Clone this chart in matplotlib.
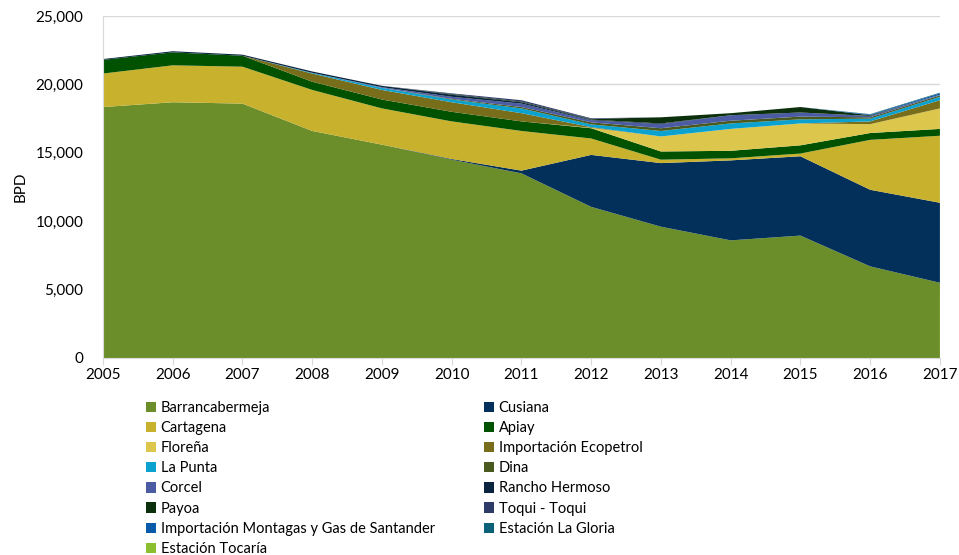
import matplotlib.pyplot as plt
from matplotlib.patches import Patch

plt.rcParams['font.family'] = ['Lato', 'DejaVu Sans']

years = list(range(2005, 2018))

# BPD per source (stacked in this order)
barrancabermeja = [18350, 18700, 18600, 16600, 15600, 14500, 13500, 11050, 9600, 8600, 8950, 6700, 5500]
cusiana = [0, 0, 0, 0, 0, 50, 200, 3800, 4650, 5850, 5800, 5600, 5850]
cartagena = [2450, 2700, 2700, 3000, 2650, 2750, 2900, 1200, 250, 150, 200, 3650, 4900]
apiay = [1000, 950, 800, 600, 650, 700, 700, 750, 600, 550, 600, 500, 500]
florena = [0, 0, 0, 0, 0, 0, 0, 30, 1100, 1600, 1600, 650, 1500]
importacion_ecopetrol = [0, 0, 0, 600, 700, 700, 600, 50, 0, 0, 0, 200, 600]
la_punta = [0, 0, 0, 50, 150, 200, 350, 200, 400, 400, 300, 200, 250]
dina = [0, 0, 0, 0, 0, 50, 100, 150, 200, 200, 200, 100, 100]
corcel = [0, 0, 0, 0, 50, 150, 250, 150, 300, 400, 300, 100, 50]
rancho_hermoso = [60, 80, 80, 100, 100, 150, 100, 50, 50, 0, 0, 0, 0]
payoa = [0, 0, 0, 0, 0, 50, 50, 50, 450, 150, 400, 50, 0]
toqui_toqui = [0, 0, 0, 0, 0, 50, 100, 50, 0, 0, 0, 0, 0]
montagas = [0, 0, 0, 0, 0, 0, 0, 0, 0, 0, 0, 50, 100]
la_gloria = [0, 0, 0, 0, 0, 0, 0, 0, 0, 0, 0, 30, 50]
tocaria = [0, 0, 0, 0, 0, 0, 0, 0, 0, 0, 0, 0, 0]

names = ["Barrancabermeja", "Cusiana", "Cartagena", "Apiay", "Floreña",
         "Importación Ecopetrol", "La Punta", "Dina", "Corcel", "Rancho Hermoso",
         "Payoa", "Toqui - Toqui", "Importación Montagas y Gas de Santander",
         "Estación La Gloria", "Estación Tocaría"]
series = [barrancabermeja, cusiana, cartagena, apiay, florena, importacion_ecopetrol,
          la_punta, dina, corcel, rancho_hermoso, payoa, toqui_toqui, montagas,
          la_gloria, tocaria]
colors = ["#6b8e2a", "#03305a", "#c8b12c", "#005200", "#dcc64c", "#776d1a",
          "#0ba2d0", "#4a5a1e", "#4b5ca4", "#0a2440", "#0b300b", "#2e3a68",
          "#0a5aaa", "#0a6078", "#8cbf30"]

fig = plt.figure(figsize=(9.59, 5.55), dpi=100)
ax = fig.add_axes([0.1074, 0.355, 0.8727, 0.616])

ax.stackplot(years, series, colors=colors, linewidth=0)

ax.set_xlim(2005, 2017)
ax.set_ylim(0, 25000)
ax.set_xticks(years)
ax.set_yticks(range(0, 25001, 5000))
ax.set_yticklabels([f"{v:,}" for v in range(0, 25001, 5000)])
ax.grid(axis="y", color="#d9d9d9", linewidth=1)
ax.set_axisbelow(True)
for side in ["top", "right"]:
    ax.spines[side].set_visible(False)
ax.spines["left"].set_color("#d9d9d9")
ax.spines["bottom"].set_color("#d9d9d9")
ax.tick_params(axis="y", length=0, labelsize=11, pad=14)
ax.tick_params(axis="x", length=5, color="#d9d9d9", labelsize=11, pad=2)
ax.set_ylabel("BPD", fontsize=11, labelpad=6)

handles = [Patch(facecolor=c, edgecolor="none") for c in colors]
left_idx = list(range(0, 15, 2))
right_idx = list(range(1, 15, 2))
leg_kw = dict(frameon=False, fontsize=10.5, handlelength=0.7, handleheight=0.7,
              handletextpad=0.3, labelspacing=0.42, borderaxespad=0, borderpad=0)
fig.legend([handles[i] for i in left_idx], [names[i] for i in left_idx],
           loc="upper left", bbox_to_anchor=(146 / 959, 1 - 401 / 555), **leg_kw)
fig.legend([handles[i] for i in right_idx], [names[i] for i in right_idx],
           loc="upper left", bbox_to_anchor=(484 / 959, 1 - 401 / 555), **leg_kw)

fig.savefig("out.png", dpi=100)
